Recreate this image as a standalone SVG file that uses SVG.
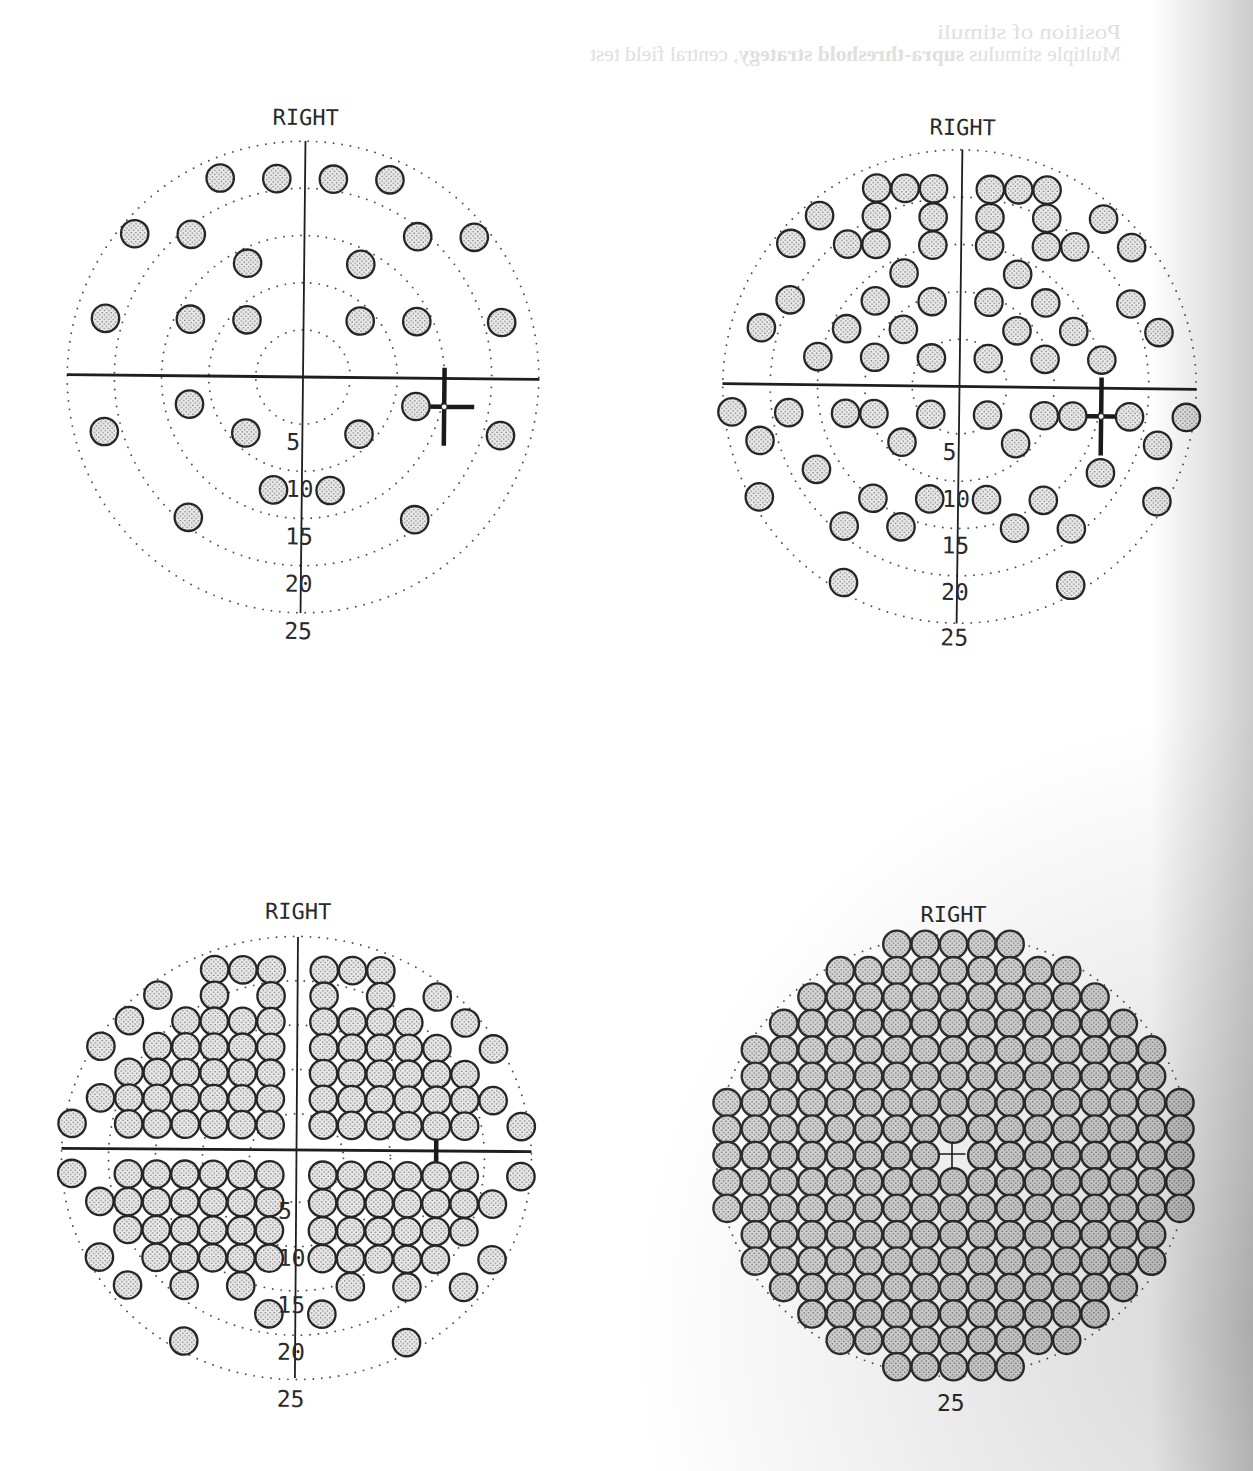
<svg xmlns="http://www.w3.org/2000/svg" xmlns:xlink="http://www.w3.org/1999/xlink" width="1253" height="1471" viewBox="0 0 1253 1471">
<style>
.ring{fill:none;stroke:#4d4d4d;stroke-width:1.9;stroke-dasharray:0 8.5;stroke-linecap:round}
.ax{stroke:#1e1e1e;stroke-width:1.8;fill:none}
.axh{stroke:#1e1e1e;stroke-width:2.8;fill:none}
.bs{stroke:#1a1a1a;stroke-width:4.5;fill:none}
.st{fill:url(#stip);stroke:#262626;stroke-width:2.3}
.st4{fill:url(#stip4);stroke:#2e2e2e;stroke-width:2.4}
.lbl{font-family:"DejaVu Sans Mono",monospace;font-size:23px;fill:#2a2a2a}
.ttl{font-family:"DejaVu Sans Mono",monospace;font-size:22px;fill:#2a2a2a;text-anchor:middle}
.ghost{font-family:"Liberation Serif",serif;font-size:21px;fill:#e0e0e0}
</style>
<defs>
<pattern id="stip" width="4.5" height="4.5" patternUnits="userSpaceOnUse"><rect width="4.5" height="4.5" fill="#e9e9e9"/><circle cx="1.1" cy="1.1" r="0.75" fill="#777"/><circle cx="3.35" cy="3.35" r="0.75" fill="#777"/></pattern>
<pattern id="stip4" width="4.5" height="4.5" patternUnits="userSpaceOnUse"><rect width="4.5" height="4.5" fill="#dadada"/><circle cx="1.1" cy="1.1" r="0.75" fill="#6a6a6a"/><circle cx="3.35" cy="3.35" r="0.75" fill="#6a6a6a"/></pattern>
<circle id="c" r="13.7"/>
<g id="h2"><use href="#c" x="28.3"/><use href="#c" x="56.6"/></g>
<g id="h4"><use href="#h2"/><use href="#c" x="84.9"/><use href="#c" x="113.2"/></g>
<g id="h5"><use href="#h4"/><use href="#c" x="141.5"/></g>
<g id="h6"><use href="#h5"/><use href="#c" x="169.8"/></g>
<g id="h7"><use href="#h6"/><use href="#c" x="198.1"/></g>
<g id="h8"><use href="#h7"/><use href="#c" x="226.4"/></g>
<g id="k5"><use href="#c" x="26.5"/><use href="#c" x="54.8"/><use href="#c" x="83.1"/><use href="#c" x="111.4"/><use href="#c" x="139.7"/></g>
<linearGradient id="shR" gradientUnits="userSpaceOnUse" x1="1150" y1="0" x2="1253" y2="0"><stop offset="0" stop-color="#000" stop-opacity="0"/><stop offset="1" stop-color="#000" stop-opacity="0.2"/></linearGradient>
<radialGradient id="shB" gradientUnits="userSpaceOnUse" cx="1253" cy="1330" r="620"><stop offset="0" stop-color="#000" stop-opacity="0.16"/><stop offset="1" stop-color="#000" stop-opacity="0"/></radialGradient>
</defs>
<rect width="1253" height="1471" fill="#ffffff"/>

<g id="header-bleed" class="ghost" transform="translate(2058,0) scale(-1,1)">
<text x="937" y="39" textLength="184" lengthAdjust="spacingAndGlyphs">Position of stimuli</text>
<text x="937" y="61" textLength="531" lengthAdjust="spacingAndGlyphs">Multiple stimulus <tspan font-weight="bold">supra-threshold strategy</tspan>, central field test</text>
</g>

<!-- Plot 1 -->
<g id="plot1" transform="translate(303,377) rotate(0.6)">
<g id="p1-rings"><circle class="ring" r="47.2"/><circle class="ring" r="94.3"/><circle class="ring" r="141.5"/><circle class="ring" r="188.7"/><circle class="ring" r="235.8"/></g>
<g id="p1-axes"><line class="axh" x1="-236" y1="0" x2="236" y2="0"/><line class="ax" x1="0" y1="-236" x2="0" y2="236"/></g>
<g id="p1-blindspot"><path class="bs" d="M141.5 -10.7V67.3M111.5 28.3H171.5"/><circle cx="141.5" cy="28.3" r="2.8" fill="#fff" stroke="#333" stroke-width="1"/></g>
<g id="p1-stimuli" class="st">
<g id="p1r">
<use href="#c" x="28.3" y="-198.1"/><use href="#c" x="84.9" y="-198.1"/>
<use href="#c" x="113.2" y="-141.5"/><use href="#c" x="169.8" y="-141.5"/>
<use href="#c" x="56.6" y="-113.2"/>
<use href="#c" x="56.6" y="-56.6"/><use href="#c" x="113.2" y="-56.6"/><use href="#c" x="198.1" y="-56.6"/>
<use href="#c" x="113.2" y="28.3"/>
<use href="#c" x="56.6" y="56.6"/><use href="#c" x="198.1" y="56.6"/>
<use href="#c" x="28.3" y="113.2"/>
<use href="#c" x="113.2" y="141.5"/>
</g>
<use href="#p1r" transform="scale(-1,1)"/>
</g>
<g id="p1-labels" class="lbl">
<text class="ttl" x="0" y="-252">RIGHT</text>
<text x="-16" y="73">5</text><text x="-16" y="120">10</text><text x="-16" y="167.5">15</text><text x="-16" y="214.7">20</text><text x="-16" y="262">25</text>
</g>
</g>

<!-- Plot 2 -->
<g id="plot2" transform="translate(959.5,386.5) rotate(0.7)">
<g id="p2-rings"><circle class="ring" r="47.3"/><circle class="ring" r="94.7"/><circle class="ring" r="142"/><circle class="ring" r="189.3"/><circle class="ring" r="236.7"/></g>
<g id="p2-axes"><line class="axh" x1="-237" y1="0" x2="237" y2="0"/><line class="ax" x1="0" y1="-237" x2="0" y2="237"/></g>
<g id="p2-blindspot"><path class="bs" d="M142 -10.8V67.2M112 28.2H172"/><circle cx="142" cy="28.2" r="2.8" fill="#fff" stroke="#333" stroke-width="1"/></g>
<g id="p2-stimuli" class="st">
<g id="p2r">
<use href="#c" x="28.4" y="-197.4"/><use href="#c" x="56.8" y="-197.4"/><use href="#c" x="85.2" y="-197.4"/>
<use href="#c" x="28.4" y="-169.2"/><use href="#c" x="85.2" y="-169.2"/><use href="#c" x="142" y="-169.2"/>
<use href="#c" x="28.4" y="-141"/><use href="#c" x="85.2" y="-141"/><use href="#c" x="113.6" y="-141"/><use href="#c" x="170.4" y="-141"/>
<use href="#c" x="56.8" y="-112.8"/>
<use href="#c" x="28.4" y="-84.6"/><use href="#c" x="85.2" y="-84.6"/><use href="#c" x="170.4" y="-84.6"/>
<use href="#c" x="56.8" y="-56.4"/><use href="#c" x="113.6" y="-56.4"/><use href="#c" x="198.8" y="-56.4"/>
<use href="#c" x="28.4" y="-28.2"/><use href="#c" x="85.2" y="-28.2"/><use href="#c" x="142" y="-28.2"/>
<use href="#c" x="28.4" y="28.2"/><use href="#c" x="85.2" y="28.2"/><use href="#c" x="113.6" y="28.2"/><use href="#c" x="170.4" y="28.2"/><use href="#c" x="227.2" y="28.2"/>
<use href="#c" x="56.8" y="56.4"/><use href="#c" x="198.8" y="56.4"/>
<use href="#c" x="142" y="84.6"/>
<use href="#c" x="28.4" y="112.8"/><use href="#c" x="85.2" y="112.8"/><use href="#c" x="198.8" y="112.8"/>
<use href="#c" x="56.8" y="141"/><use href="#c" x="113.6" y="141"/>
<use href="#c" x="113.6" y="197.4"/>
</g>
<use href="#p2r" transform="scale(-1,1)"/>
</g>
<g id="p2-labels" class="lbl">
<text class="ttl" x="0" y="-251.5">RIGHT</text>
<text x="-16" y="73.5">5</text><text x="-16" y="120.5">10</text><text x="-16" y="167">15</text><text x="-16" y="213.5">20</text><text x="-16" y="259">25</text>
</g>
</g>

<!-- Plot 3 -->
<g id="plot3" transform="translate(296.5,1150) rotate(0.4)">
<g id="p3-rings"><ellipse class="ring" cx="0" cy="8" rx="47" ry="44.3"/><ellipse class="ring" cx="0" cy="8" rx="94" ry="88.6"/><ellipse class="ring" cx="0" cy="8" rx="141" ry="132.9"/><ellipse class="ring" cx="0" cy="8" rx="188" ry="177.2"/><ellipse class="ring" cx="0" cy="8" rx="235" ry="221.5"/></g>
<g id="p3-axes"><line class="axh" x1="-235" y1="0" x2="235" y2="0"/><line class="ax" x1="0" y1="-213" x2="0" y2="228"/></g>
<g id="p3-blindspot"><path class="bs" d="M139.7 -14V64M109.7 25H169.7"/></g>
<g id="p3-stimuli" class="st">
<g id="p3r">
<use href="#c" x="26.5" y="-179.8"/><use href="#c" x="54.8" y="-179.8"/><use href="#c" x="83.1" y="-179.8"/>
<use href="#c" x="26.5" y="-154"/><use href="#c" x="83.1" y="-154"/><use href="#c" x="139.7" y="-154"/>
<use href="#c" x="26.5" y="-128.2"/><use href="#c" x="54.8" y="-128.2"/><use href="#c" x="83.1" y="-128.2"/><use href="#c" x="111.4" y="-128.2"/><use href="#c" x="168" y="-128.2"/>
<use href="#k5" y="-102.4"/><use href="#c" x="196.3" y="-102.4"/>
<use href="#k5" y="-76.6"/><use href="#c" x="168" y="-76.6"/>
<use href="#k5" y="-50.8"/><use href="#c" x="168" y="-50.8"/><use href="#c" x="196.3" y="-50.8"/>
<use href="#k5" y="-25"/><use href="#c" x="168" y="-25"/><use href="#c" x="224.6" y="-25"/>
<use href="#k5" y="25"/><use href="#c" x="168" y="25"/><use href="#c" x="224.6" y="25"/>
<use href="#k5" y="52.8"/><use href="#c" x="168" y="52.8"/><use href="#c" x="196.3" y="52.8"/>
<use href="#k5" y="80.6"/><use href="#c" x="168" y="80.6"/>
<use href="#k5" y="108.4"/><use href="#c" x="196.3" y="108.4"/>
<use href="#c" x="54.8" y="136.2"/><use href="#c" x="111.4" y="136.2"/><use href="#c" x="168" y="136.2"/>
<use href="#c" x="26.5" y="164"/>
<use href="#c" x="111.4" y="191.8"/>
</g>
<use href="#p3r" transform="scale(-1,1)"/>
</g>
<g id="p3-labels" class="lbl">
<text class="ttl" x="0" y="-231">RIGHT</text>
<text x="-18" y="69">5</text><text x="-18" y="116">10</text><text x="-18" y="163">15</text><text x="-18" y="210">20</text><text x="-18" y="257">25</text>
</g>
</g>

<!-- Plot 4 -->
<g id="plot4" transform="translate(953.5,1155.5)">
<g id="p4-rings"><ellipse class="ring" cx="0" cy="0" rx="237" ry="221"/></g>
<g id="p4-stimuli" class="st4">
<g id="p4r">
<use href="#h2" y="-211.2"/><use href="#h4" y="-184.8"/><use href="#h5" y="-158.4"/><use href="#h6" y="-132"/>
<use href="#h7" y="-105.6"/><use href="#h7" y="-79.2"/><use href="#h8" y="-52.8"/><use href="#h8" y="-26.4"/>
<use href="#h8" y="0"/><use href="#h8" y="26.4"/><use href="#h8" y="52.8"/><use href="#h7" y="79.2"/>
<use href="#h7" y="105.6"/><use href="#h6" y="132"/><use href="#h5" y="158.4"/><use href="#h4" y="184.8"/><use href="#h2" y="211.2"/>
</g>
<use href="#p4r" transform="scale(-1,1)"/>
<g id="p4c">
<use href="#c" y="-211.2"/><use href="#c" y="-184.8"/><use href="#c" y="-158.4"/><use href="#c" y="-132"/><use href="#c" y="-105.6"/><use href="#c" y="-79.2"/><use href="#c" y="-52.8"/><use href="#c" y="-26.4"/>
<use href="#c" y="26.4"/><use href="#c" y="52.8"/><use href="#c" y="79.2"/><use href="#c" y="105.6"/><use href="#c" y="132"/><use href="#c" y="158.4"/><use href="#c" y="184.8"/><use href="#c" y="211.2"/>
</g>
</g>
<path id="p4-fixation" d="M-15 -1.5H12M-1.5 -13V13" stroke="#1e1e1e" stroke-width="1.6" fill="none"/>
<g id="p4-labels" class="lbl">
<text class="ttl" x="0" y="-233.5">RIGHT</text>
<text x="-16.5" y="255.5">25</text>
</g>
</g>

<g id="page-shading">
<rect x="1150" y="0" width="103" height="1471" fill="url(#shR)"/>
<rect x="0" y="0" width="1253" height="1471" fill="url(#shB)"/>
</g>
</svg>
